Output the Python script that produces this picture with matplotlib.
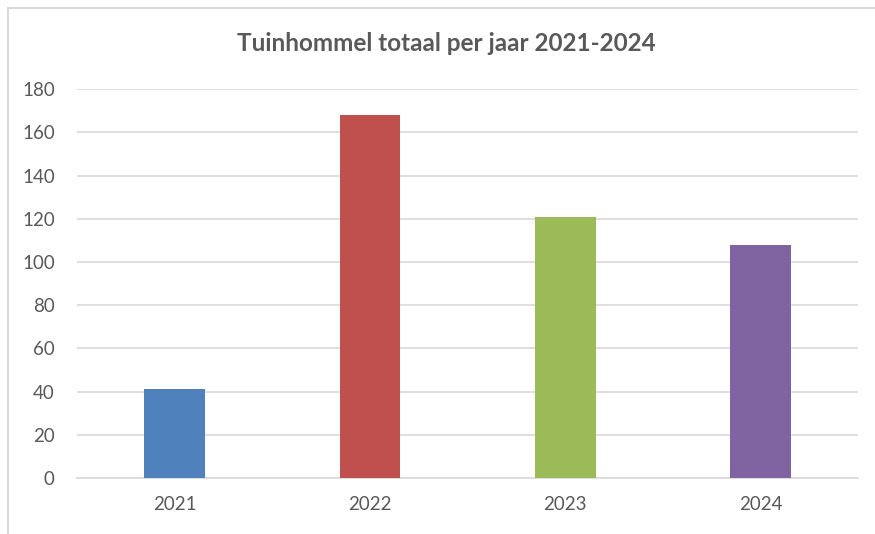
import matplotlib
matplotlib.use('Agg')
import matplotlib.pyplot as plt
from matplotlib.lines import Line2D

years = ['2021', '2022', '2023', '2024']
totals = [41, 168, 121, 108]
bar_colors = ['#4F81BD', '#C0504D', '#9BBB59', '#8064A2']
y_ticks = list(range(0, 181, 20))

plt.rcParams['font.family'] = ['Lato', 'DejaVu Sans']

fig = plt.figure(figsize=(8.75, 5.34), dpi=100)
ax = fig.add_axes([0.088, 0.105, 0.893, 0.728])

x = range(len(years))
ax.bar(x, totals, width=0.31, color=bar_colors, zorder=3)

ax.set_xlim(-0.5, len(years) - 0.5)
ax.set_ylim(0, 180)
ax.set_yticks(y_ticks)
ax.set_xticks(list(x))
ax.set_xticklabels(years)
ax.yaxis.grid(True, color='#D9D9D9', linewidth=1.2, zorder=0)
ax.tick_params(axis='both', length=0, labelsize=13.5, colors='#595959')
ax.tick_params(axis='x', pad=13)
ax.tick_params(axis='y', pad=16)
for side in ['top', 'right', 'left']:
    ax.spines[side].set_visible(False)
ax.spines['bottom'].set_color('#D9D9D9')
ax.spines['bottom'].set_linewidth(1.2)

fig.text(0.51, 0.919, 'Tuinhommel totaal per jaar 2021-2024', ha='center', va='center',
         fontsize=17.5, fontweight='bold', color='#595959')

# chart frame: only the left and top edges show in the crop
bx, by = 7.5 / 875, 1 - 7.5 / 534
fig.lines.append(Line2D([bx, bx], [0, by], transform=fig.transFigure, color='#D9D9D9', linewidth=1.5))
fig.lines.append(Line2D([bx, 1], [by, by], transform=fig.transFigure, color='#D9D9D9', linewidth=1.5))

fig.savefig('out.png', dpi=100)
